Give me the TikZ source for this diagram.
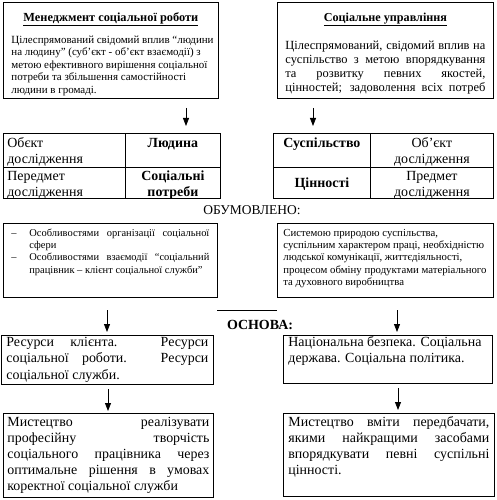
\documentclass[tikz,border=0pt]{standalone}
\usepackage{fontspec}
\setmainfont{Liberation Serif}
\usetikzlibrary{arrows.meta}
\newcommand{\fs}[2]{\fontsize{#1}{#2}\selectfont}
\newcommand{\myjl}[1]{\makebox[\linewidth][s]{#1}}
\newcommand{\firstbl}[1]{\vspace*{#1}\mbox{}\par}
\newcommand{\mybx}[3]{\parbox[t][#2][t]{#1}{#3}}
\tikzset{
  frm/.style={draw=black, line width=0.8bp, inner xsep=#1, inner ysep=0pt, anchor=north west},
  arr/.style={line width=0.8bp, -{Triangle[length=8bp,width=6bp]}},
  plainline/.style={line width=0.8bp},
  lbl/.style={inner sep=0pt}
}
\begin{document}
\begin{tikzpicture}[x=1bp,y=-1bp]
\fill[white] (0,0) rectangle (497,500);
\useasboundingbox (0,0) rectangle (497,500);

% top boxes
\node[frm=8bp] (tl) at (3,2) {\mybx{199bp}{96bp}{\firstbl{5bp}\centering\fs{12.4}{14}\bfseries\underline{Менеджмент соціальної роботи}\par\vspace{9.5bp}\raggedright\fs{11}{12.5}\mdseries
\mbox{Цілеспрямований свідомий вплив “людини}\\
\mbox{на людину” (суб’єкт - об’єкт взаємодії) з}\\
\mbox{метою ефективного вирішення соціальної}\\
\mbox{потреби та збільшення самостійності}\\
\mbox{людини в громаді.}}};

\node[frm=8bp] (tr) at (277,2) {\mybx{200bp}{96bp}{\firstbl{5bp}\centering\fs{12.2}{14}\bfseries\underline{Соціальне управління}\par\vspace{14bp}\fs{12.5}{14}\mdseries
\myjl{Цілеспрямований, свідомий вплив на}\\
\myjl{суспільство з метою впорядкування}\\
\myjl{та розвитку певних якостей,}\\
\myjl{цінностей; задоволення всіх потреб}}};

\coordinate (a1s) at (186,108); \coordinate (a1e) at (186,126);
\coordinate (a2s) at (313,108); \coordinate (a2e) at (313,126);
\draw[arr] (a1s) -- (a1e);
\draw[arr] (a2s) -- (a2e);

% left table
\node[frm=4bp] (lt1) at (3,133) {\mybx{114bp}{34bp}{\firstbl{-2bp}\fs{14}{16}Обєкт\\дослідження}};
\node[frm=2bp] (lt2) at (125,133) {\mybx{91bp}{34bp}{\firstbl{-2bp}\centering\fs{14}{16}\bfseries Людина}};
\node[frm=4bp] (lt3) at (3,167) {\mybx{114bp}{31bp}{\firstbl{-3bp}\fs{14}{16}Передмет\\дослідження}};
\node[frm=2bp] (lt4) at (125,167) {\mybx{91bp}{31bp}{\firstbl{-3bp}\centering\fs{14}{16}\bfseries Соціальні\\потреби}};

% right table
\node[frm=2bp] (rt1) at (273,133) {\mybx{93bp}{34bp}{\firstbl{-2bp}\centering\fs{14}{16}\bfseries Суспільство}};
\node[frm=2bp] (rt2) at (370,133) {\mybx{119bp}{34bp}{\firstbl{-2bp}\centering\fs{14}{16}Об’єкт\\дослідження}};
\node[frm=2bp] (rt3) at (273,167) {\mybx{93bp}{31bp}{\firstbl{4bp}\centering\fs{14}{16}\bfseries Цінності}};
\node[frm=2bp] (rt4) at (370,167) {\mybx{119bp}{31bp}{\firstbl{-3bp}\centering\fs{14}{16}Предмет\\дослідження}};

\node[lbl] (obum) at (252,210) {\fs{13.5}{16}ОБУМОВЛЕНО:};

% middle boxes
\node[frm=8bp] (ml) at (3,223) {\mybx{198bp}{74bp}{\firstbl{0.7bp}\fs{10.5}{12.3}%
\makebox[18bp][l]{–}\makebox[180bp][s]{Особливостями організації соціальної}\\
\hspace*{18bp}сфери\\
\makebox[18bp][l]{–}\makebox[180bp][s]{Особливостями взаємодії “соціальний}\\
\hspace*{18bp}працівник – клієнт соціальної служби”}};

\node[frm=6bp] (mr) at (277,223) {\mybx{204bp}{74bp}{\firstbl{0.7bp}\raggedright\fs{10.8}{12.3}%
\mbox{Системою природою суспільства,}\\
\mbox{суспільним характером праці, необхідністю}\\
\mbox{людської комунікації, життєдіяльності,}\\
\mbox{процесом обміну продуктами матеріального}\\
\mbox{та духовного виробництва}}};

\coordinate (hl1) at (217,310); \coordinate (hl2) at (277,310);
\draw[plainline] (hl1) -- (hl2);

\node[lbl] (osn) at (260,325) {\fs{14}{16}\bfseries ОСНОВА:};

\coordinate (a3s) at (107,310); \coordinate (a3e) at (107,332);
\coordinate (a4s) at (397,310); \coordinate (a4e) at (397,332);
\draw[arr] (a3s) -- (a3e);
\draw[arr] (a4s) -- (a4e);

% lower middle boxes
\node[frm=5bp] (ll) at (1,335) {\mybx{202bp}{49bp}{\firstbl{-5.5bp}\fs{14}{16.5}%
\myjl{Ресурси клієнта. Ресурси}\\
\myjl{соціальної роботи. Ресурси}\\
соціальної служби.}};

\node[frm=5bp] (lr) at (283,335) {\mybx{199bp}{48bp}{\firstbl{-5.5bp}\raggedright\fs{14}{16.5}%
\mbox{Національна безпека. Соціальна}\\
\mbox{держава. Соціальна політика.}}};

\coordinate (a5s) at (108,389); \coordinate (a5e) at (108,411);
\coordinate (a6s) at (398,388); \coordinate (a6e) at (398,410);
\draw[arr] (a5s) -- (a5e);
\draw[arr] (a6s) -- (a6e);

% bottom boxes
\node[frm=4bp] (bl) at (3,413) {\mybx{202bp}{84bp}{\firstbl{-3bp}\fs{14}{16}%
\myjl{Мистецтво реалізувати}\\
\myjl{професійну творчість}\\
\myjl{соціального працівника через}\\
\myjl{оптимальне рішення в умовах}\\
коректної соціальної служби}};

\node[frm=5bp] (br) at (283,413) {\mybx{201bp}{83bp}{\firstbl{-3bp}\fs{14}{16}%
\myjl{Мистецтво вміти передбачати,}\\
\myjl{якими найкращими засобами}\\
\myjl{впорядкувати певні суспільні}\\
цінності.}};
\end{tikzpicture}
\end{document}
